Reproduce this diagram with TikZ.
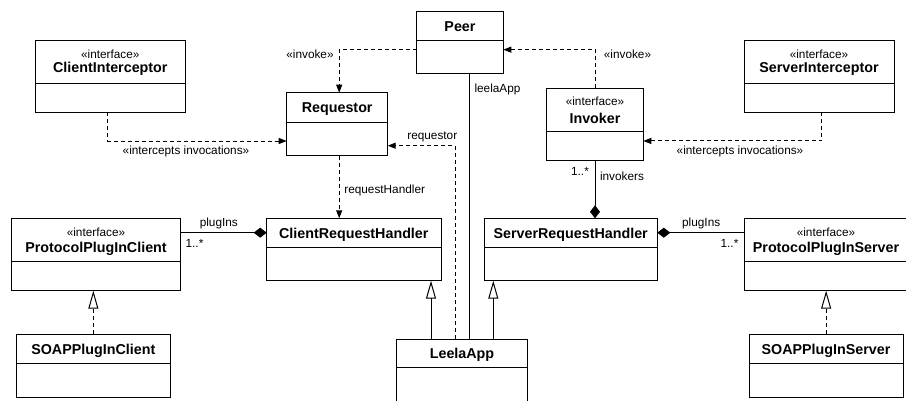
\documentclass[tikz,border=0pt]{standalone}
\usepackage{fontspec}
\setmainfont{Liberation Sans}
\usetikzlibrary{arrows.meta}
\tikzset{
  cls/.style={draw, line width=1pt, inner sep=0pt, outer sep=0pt, fill=white},
  divline/.style={line width=1pt},
  ttl/.style={inner sep=0pt, font=\fontsize{14.3}{17}\selectfont\bfseries},
  stereo/.style={inner sep=0pt, font=\fontsize{11.8}{14}\selectfont},
  lbl/.style={inner sep=0pt, font=\fontsize{11.8}{14}\selectfont},
  dep/.style={line width=1pt, dash pattern=on 4pt off 3pt, -{Triangle[length=8pt,width=6pt]}},
  real/.style={line width=1pt, dash pattern=on 4pt off 3pt, -{Triangle[open,length=18pt,width=10pt,fill=white]}},
  gen/.style={line width=1pt, -{Triangle[open,length=18pt,width=10pt,fill=white]}},
  comp/.style={line width=1pt, -{Diamond[length=13pt,width=10pt]}},
  assoc/.style={line width=1pt},
}
\newcommand\umlbox[6]{%
  \node[cls, minimum width={(#4-#2)*1pt}, minimum height={(#5-#3)*1pt}] (#1) at ({(#2+#4)/2},{(#3+#5)/2}) {};
  \draw[divline] (#2,#6) -- (#4,#6);
}
\begin{document}
\begin{tikzpicture}[x=1pt,y=-1pt]
\useasboundingbox (0,0) rectangle (906,400);
\fill[white] (0,0) rectangle (906,400);

% classes
\umlbox{CI}{35.7}{40}{185}{112}{83.3}
\node[stereo] (CIs) at (110.3,54) {«interface»};
\node[ttl] (CIt) at (110.3,68.5) {ClientInterceptor};

\umlbox{Peer}{416.7}{11}{503.3}{73.3}{40.7}
\node[ttl] (Peert) at (460,26.7) {Peer};

\umlbox{Req}{286.7}{92.7}{387.7}{155.7}{122.3}
\node[ttl] (Reqt) at (337.2,109) {Requestor};

\umlbox{Inv}{546.7}{88.3}{643.3}{160}{131.7}
\node[stereo] (Invs) at (595,101.7) {«interface»};
\node[ttl] (Invt) at (595,118.3) {Invoker};

\umlbox{SI}{744}{40}{894}{112}{83.3}
\node[stereo] (SIs) at (819,54) {«interface»};
\node[ttl] (SIt) at (819,68.5) {ServerInterceptor};

\umlbox{PPIC}{11.7}{218.3}{180.3}{290.7}{261.3}
\node[stereo] (PPICs) at (96,232.7) {«interface»};
\node[ttl] (PPICt) at (96,249.3) {ProtocolPlugInClient};

\umlbox{CRH}{266.7}{218.3}{441}{280.7}{247.3}
\node[ttl] (CRHt) at (353.8,234.3) {ClientRequestHandler};

\umlbox{SRH}{484}{218.3}{657.3}{280.7}{247.3}
\node[ttl] (SRHt) at (570.7,234.3) {ServerRequestHandler};

\umlbox{PPIS}{744}{218.3}{908}{290.7}{261.3}
\node[stereo] (PPISs) at (826,232.7) {«interface»};
\node[ttl] (PPISt) at (826,249.3) {ProtocolPlugInServer};

\umlbox{SPIC}{16}{334}{170.7}{397}{363}
\node[ttl] (SPICt) at (93.3,350.7) {SOAPPlugInClient};

\umlbox{Leela}{396.7}{339}{527.3}{412}{367.7}
\node[ttl] (Leelat) at (462,355) {LeelaApp};

\umlbox{SPIS}{749}{334}{903.3}{397}{363}
\node[ttl] (SPISt) at (826,350.7) {SOAPPlugInServer};

% connectors
\draw[dep] ([xshift=-2.6pt]CI.south) |- ([yshift=-16.8pt]Req.west);
\node[lbl] (l1) at (186,151) {«intercepts invocations»};

\draw[dep] ([yshift=-7.5pt]Peer.west) -| ([xshift=2pt]Req.north);
\node[lbl] (l2) at (310,54) {«invoke»};

\draw[dep] (Inv.north) |- ([yshift=-7.5pt]Peer.east);
\node[lbl] (l3) at (627.5,54) {«invoke»};

\draw[dep] ([xshift=2.7pt]SI.south) |- ([yshift=-16.8pt]Inv.east);
\node[lbl] (l4) at (740,151) {«intercepts invocations»};

\draw[dep] ([xshift=2pt]Req.south) -- ([xshift=2pt]Req.south |- CRH.north);
\node[lbl] (l5) at (384.7,190) {requestHandler};

\draw[dep] ([xshift=-7pt]Leela.north) |- ([yshift=-21.5pt]Req.east);
\node[lbl] (l6) at (432.3,137) {requestor};

\draw[assoc] ([xshift=9pt]Peer.south) -- ([xshift=9pt]Peer.south |- Leela.north);
\node[lbl] (l7) at (497.5,89.3) {leelaApp};

\draw[comp] (Inv.south) -- (Inv.south |- SRH.north);
\node[lbl] (l8) at (580,171.7) {1..*};
\node[lbl] (l9) at (622,176) {invokers};

\draw[gen] ([xshift=-31pt]Leela.north) -- ([xshift=-31pt]Leela.north |- CRH.south);
\draw[gen] ([xshift=31.3pt]Leela.north) -- ([xshift=31.3pt]Leela.north |- SRH.south);

\draw[comp] ([yshift=21.8pt]PPIC.east) -- ([yshift=21.8pt]PPIC.east -| CRH.west);
\node[lbl] (l10) at (218.8,223.3) {plugIns};
\node[lbl] (l11) at (194.5,243.3) {1..*};

\draw[comp] ([yshift=21.8pt]PPIS.west) -- ([yshift=21.8pt]PPIS.west -| SRH.east);
\node[lbl] (l12) at (701.2,223) {plugIns};
\node[lbl] (l13) at (729.5,243.3) {1..*};

\draw[real] (SPIC.north) -- (SPIC.north |- PPIC.south);
\draw[real] (SPIS.north) -- (SPIS.north |- PPIS.south);
\end{tikzpicture}
\end{document}
